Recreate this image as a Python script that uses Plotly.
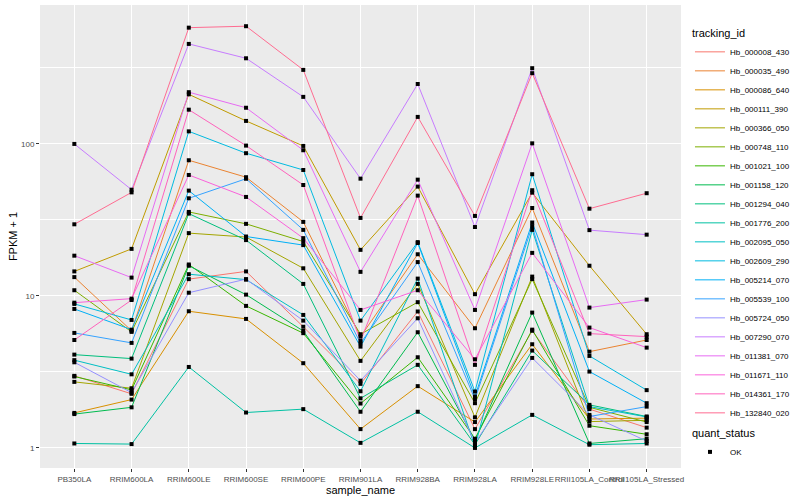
import plotly.graph_objects as go

samples = ["PB350LA", "RRIM600LA", "RRIM600LE", "RRIM600SE", "RRIM600PE", "RRIM901LA",
           "RRIM928BA", "RRIM928LA", "RRIM928LE", "RRII105LA_Control", "RRII105LA_Stressed"]

tracking_ids = ["Hb_000008_430", "Hb_000035_490", "Hb_000086_640", "Hb_000111_390", "Hb_000366_050",
                "Hb_000748_110", "Hb_001021_100", "Hb_001158_120", "Hb_001294_040", "Hb_001776_200",
                "Hb_002095_050", "Hb_002609_290", "Hb_005214_070", "Hb_005539_100", "Hb_005724_050",
                "Hb_007290_070", "Hb_011381_070", "Hb_011671_110", "Hb_014361_170", "Hb_132840_020"]

colors = ["#F8766D", "#EA8331", "#D89000", "#C09B00", "#A3A500", "#7CAE00", "#39B600", "#00BB4E",
          "#00BF7D", "#00C1A3", "#00BFC4", "#00BAE0", "#00B0F6", "#35A2FF", "#9590FF", "#C77CFF",
          "#E76BF3", "#FA62DB", "#FF62BC", "#FF6C91"]

# FPKM + 1 values, one list per tracking_id, in sample order
Hb_000008_430 = [2.98, 2.27, 12.9, 14.5, 6.27, 2.64, 7.9, 1.33, 5.9, 1.80, 1.36]
Hb_000035_490 = [13.3, 5.9, 78.1, 60.4, 30.7, 5.4, 18.8, 6.13, 37.9, 4.30, 5.13]
Hb_000086_640 = [1.70, 2.08, 7.93, 7.06, 3.61, 1.33, 2.55, 1.48, 4.81, 1.55, 1.57]
Hb_000111_390 = [14.5, 20.4, 212, 141.7, 97, 20.1, 52.4, 10.27, 47.8, 15.8, 5.6]
Hb_000366_050 = [2.72, 2.47, 25.9, 24.4, 15.2, 3.74, 12.0, 1.59, 13.4, 1.49, 1.52]
Hb_000748_110 = [10.9, 5.8, 35.7, 29.8, 22.8, 5.6, 9.1, 1.97, 12.9, 1.85, 1.48]
Hb_001021_100 = [2.95, 2.41, 16.1, 8.6, 5.69, 1.96, 3.95, 1.15, 6.0, 1.40, 1.23]
Hb_001158_120 = [1.67, 1.85, 15.8, 10.2, 5.88, 1.73, 5.77, 1.12, 7.77, 1.07, 1.15]
Hb_001294_040 = [4.11, 3.87, 34.8, 23.3, 12.0, 2.12, 3.52, 1.05, 4.37, 1.92, 1.61]
Hb_001776_200 = [1.07, 1.06, 3.41, 1.71, 1.80, 1.08, 1.73, 1.0, 1.65, 1.05, 1.07]
Hb_002095_050 = [3.78, 3.05, 13.9, 12.8, 7.5, 2.36, 13.0, 1.02, 27.2, 1.87, 1.60]
Hb_002609_290 = [8.86, 6.95, 121, 86.9, 67.4, 6.88, 22.6, 2.35, 63.2, 4.03, 2.40]
Hb_005214_070 = [8.21, 6.0, 49.3, 24.6, 21.6, 4.64, 22.3, 2.18, 30.4, 3.18, 1.97]
Hb_005539_100 = [5.71, 4.91, 43.9, 59.0, 27.2, 4.88, 16.7, 2.09, 28.8, 1.61, 1.87]
Hb_005724_050 = [3.66, 2.31, 10.5, 12.9, 6.88, 2.77, 7.13, 1.08, 3.91, 1.65, 1.11]
Hb_007290_070 = [100, 50, 455, 366, 204, 59.1, 248, 28.4, 315, 27.1, 25.3]
Hb_011381_070 = [18.4, 13.2, 219, 173, 90.9, 14.4, 58.2, 8.09, 100.9, 8.38, 9.46]
Hb_011671_110 = [9.03, 9.6, 62.5, 44.8, 24.0, 8.09, 10.9, 3.83, 19.2, 6.19, 4.57]
Hb_014361_170 = [5.13, 9.4, 168, 97.5, 53.7, 5.06, 45.7, 3.52, 49.6, 5.65, 5.4]
Hb_132840_020 = [29.6, 48, 582, 595, 307, 32.6, 150.6, 33.6, 292, 37.5, 47.4]

series = [Hb_000008_430, Hb_000035_490, Hb_000086_640, Hb_000111_390, Hb_000366_050,
          Hb_000748_110, Hb_001021_100, Hb_001158_120, Hb_001294_040, Hb_001776_200,
          Hb_002095_050, Hb_002609_290, Hb_005214_070, Hb_005539_100, Hb_005724_050,
          Hb_007290_070, Hb_011381_070, Hb_011671_110, Hb_014361_170, Hb_132840_020]

y_ticks = [1, 10, 100]
y_tick_labels = ["1", "10", "100"]
y_minor = [3.1623, 31.623, 316.23]

FONT = "Liberation Sans, Arial, sans-serif"

fig = go.Figure()
for name, vals, col in zip(tracking_ids, series, colors):
    fig.add_trace(go.Scatter(x=samples, y=vals, mode="lines", name=name,
                             line=dict(color=col, width=1), legend="legend"))

all_x, all_y = [], []
for vals in series:
    all_x.extend(samples)
    all_y.extend(vals)
fig.add_trace(go.Scatter(x=all_x, y=all_y, mode="markers", name="OK",
                         marker=dict(symbol="square", size=4, color="black"),
                         legend="legend2"))

fig.update_layout(
    width=800, height=500,
    margin=dict(l=40, r=117, t=5, b=32),
    paper_bgcolor="white", plot_bgcolor="#EBEBEB",
    font=dict(family=FONT, size=8, color="black"),
    showlegend=True,
    legend=dict(title=dict(text="tracking_id", font=dict(size=11)),
                x=1.014, xanchor="left", y=0.961, yanchor="top",
                itemwidth=30, font=dict(size=8), bgcolor="rgba(0,0,0,0)", tracegroupgap=0),
    legend2=dict(title=dict(text="quant_status", font=dict(size=11)),
                 x=1.014, xanchor="left", y=0.097, yanchor="top",
                 itemwidth=30, font=dict(size=8), bgcolor="rgba(0,0,0,0)"),
)

fig.update_xaxes(
    type="category", categoryorder="array", categoryarray=samples,
    range=[-0.6, len(samples) - 0.4],
    showgrid=True, gridcolor="white", gridwidth=1.1,
    zeroline=False, showline=False,
    ticks="outside", ticklen=3, tickcolor="#333333", tickwidth=1,
    tickangle=0, tickfont=dict(size=8, color="#4D4D4D", family=FONT),
    title=dict(text="sample_name", font=dict(size=11, color="black"), standoff=2),
)
fig.update_yaxes(
    type="log", range=[-0.132, 2.914],
    tickvals=y_ticks, ticktext=y_tick_labels,
    showgrid=True, gridcolor="white", gridwidth=1.1,
    minor=dict(tickvals=y_minor, showgrid=True, gridcolor="white", gridwidth=0.5, ticks=""),
    zeroline=False, showline=False,
    ticks="outside", ticklen=3, tickcolor="#333333", tickwidth=1,
    tickfont=dict(size=8, color="#4D4D4D", family=FONT),
    title=dict(text="FPKM + 1", font=dict(size=11, color="black"), standoff=1),
)

fig.write_html("out.html", config={"displayModeBar": False},
               post_script="document.body.style.margin='0px';")
